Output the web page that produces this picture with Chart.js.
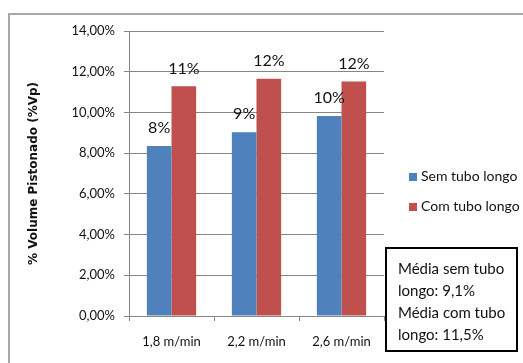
<!DOCTYPE html>
<html>
<head>
<meta charset="utf-8">
<script src="https://cdn.jsdelivr.net/npm/chart.js@4/dist/chart.umd.min.js"></script>
<style>
  body { margin: 0; background: #fff; }
  #quadro { position: relative; width: 523px; height: 363px; overflow: hidden; }
  #moldura { position: absolute; left: 8px; top: 13px; right: 0; bottom: 0;
             border-top: 2px solid #a8a8a8; border-left: 2px solid #a8a8a8; }
  #grafico { position: absolute; left: 0; top: 0; }
  #legenda { position: absolute; left: 409px; top: 167px; font: 14px Lato, sans-serif; color: #111; }
  #legenda div { height: 30px; display: flex; align-items: flex-start; }
  #legenda span.cor { display: inline-block; width: 8px; height: 8px; margin: 6px 4px 0 0; }
  #caixa { position: absolute; left: 385px; top: 247px; width: 133px; height: 105px;
           border: 2px solid #000; font: 15px Lato, sans-serif; color: #111;
           padding: 8px 0 0 11px; box-sizing: border-box; line-height: 22px; }
</style>
</head>
<body>
<div id="quadro">
  <div id="moldura"></div>
  <canvas id="grafico" width="523" height="363"></canvas>
  <div id="legenda"></div>
  <div id="caixa"></div>
</div>
<script>
// velocidades de ensaio
const velocidades = ['1,8 m/min', '2,2 m/min', '2,6 m/min'];
// volume pistonado em %
const semTubo = [8.35, 9.03, 9.83];
const comTubo = [11.28, 11.65, 11.52];
const nomesSeries = ['Sem tubo longo', 'Com tubo longo'];
const coresSeries = ['#4F81BD', '#C0504D'];
const ticksY = [0, 2, 4, 6, 8, 10, 12, 14];

function formatarVirgula(v, casas) {
    return v.toFixed(casas).replace('.', ',');
}

// rótulos de valor acima das barras
const rotulosBarras = {
    id: 'rotulosBarras',
    afterDatasetsDraw(chart) {
        const ctx = chart.ctx;
        ctx.save();
        ctx.font = '16px Lato, sans-serif';
        ctx.fillStyle = '#111';
        ctx.textAlign = 'center';
        ctx.textBaseline = 'middle';
        chart.data.datasets.forEach((ds, i) => {
            chart.getDatasetMeta(i).data.forEach((barra, j) => {
                ctx.fillText(Math.round(ds.data[j]) + '%', barra.x, barra.y - 18);
            });
        });
        ctx.restore();
    }
};

new Chart(document.getElementById('grafico'), {
    type: 'bar',
    data: {
        labels: velocidades,
        datasets: [
            { label: nomesSeries[0], data: semTubo, backgroundColor: coresSeries[0] },
            { label: nomesSeries[1], data: comTubo, backgroundColor: coresSeries[1] }
        ]
    },
    options: {
        responsive: false,
        animation: false,
        layout: { padding: { top: 31, right: 139, left: 20, bottom: 0 } },
        plugins: { legend: { display: false }, tooltip: { enabled: false } },
        datasets: { bar: { categoryPercentage: 0.58, barPercentage: 1 } },
        scales: {
            x: {
                afterFit: s => { s.height = 47; },
                grid: { offset: true, drawOnChartArea: false, tickLength: 5, color: '#868686' },
                border: { color: '#868686' },
                ticks: { padding: 13, color: '#111', font: { family: 'Lato', size: 13 } }
            },
            y: {
                min: 0,
                max: 14,
                afterFit: s => { s.width = 109; },
                afterBuildTicks: s => { s.ticks = ticksY.map(v => ({ value: v })); },
                grid: { tickLength: 5, color: '#868686' },
                border: { color: '#868686' },
                ticks: {
                    padding: 9,
                    color: '#111',
                    font: { family: 'Lato', size: 13 },
                    callback: v => formatarVirgula(v, 2) + '%'
                },
                title: {
                    display: true,
                    text: '% Volume Pistonado (%Vp)',
                    color: '#111',
                    padding: { top: 7, bottom: 0 },
                    font: { family: 'DejaVu Sans', size: 12, weight: 'bold' }
                }
            }
        }
    },
    plugins: [rotulosBarras]
});

// legenda e caixa de médias
const legenda = document.getElementById('legenda');
nomesSeries.forEach((nome, i) => {
    legenda.innerHTML += '<div><span class="cor" style="background:' + coresSeries[i] + '"></span>' + nome + '</div>';
});

const media = arr => arr.reduce((a, b) => a + b, 0) / arr.length;
document.getElementById('caixa').innerHTML =
    'Média sem tubo<br>longo: ' + formatarVirgula(media(semTubo), 1) + '%<br>' +
    'Média com tubo<br>longo: ' + formatarVirgula(media(comTubo), 1) + '%';
</script>
</body>
</html>
